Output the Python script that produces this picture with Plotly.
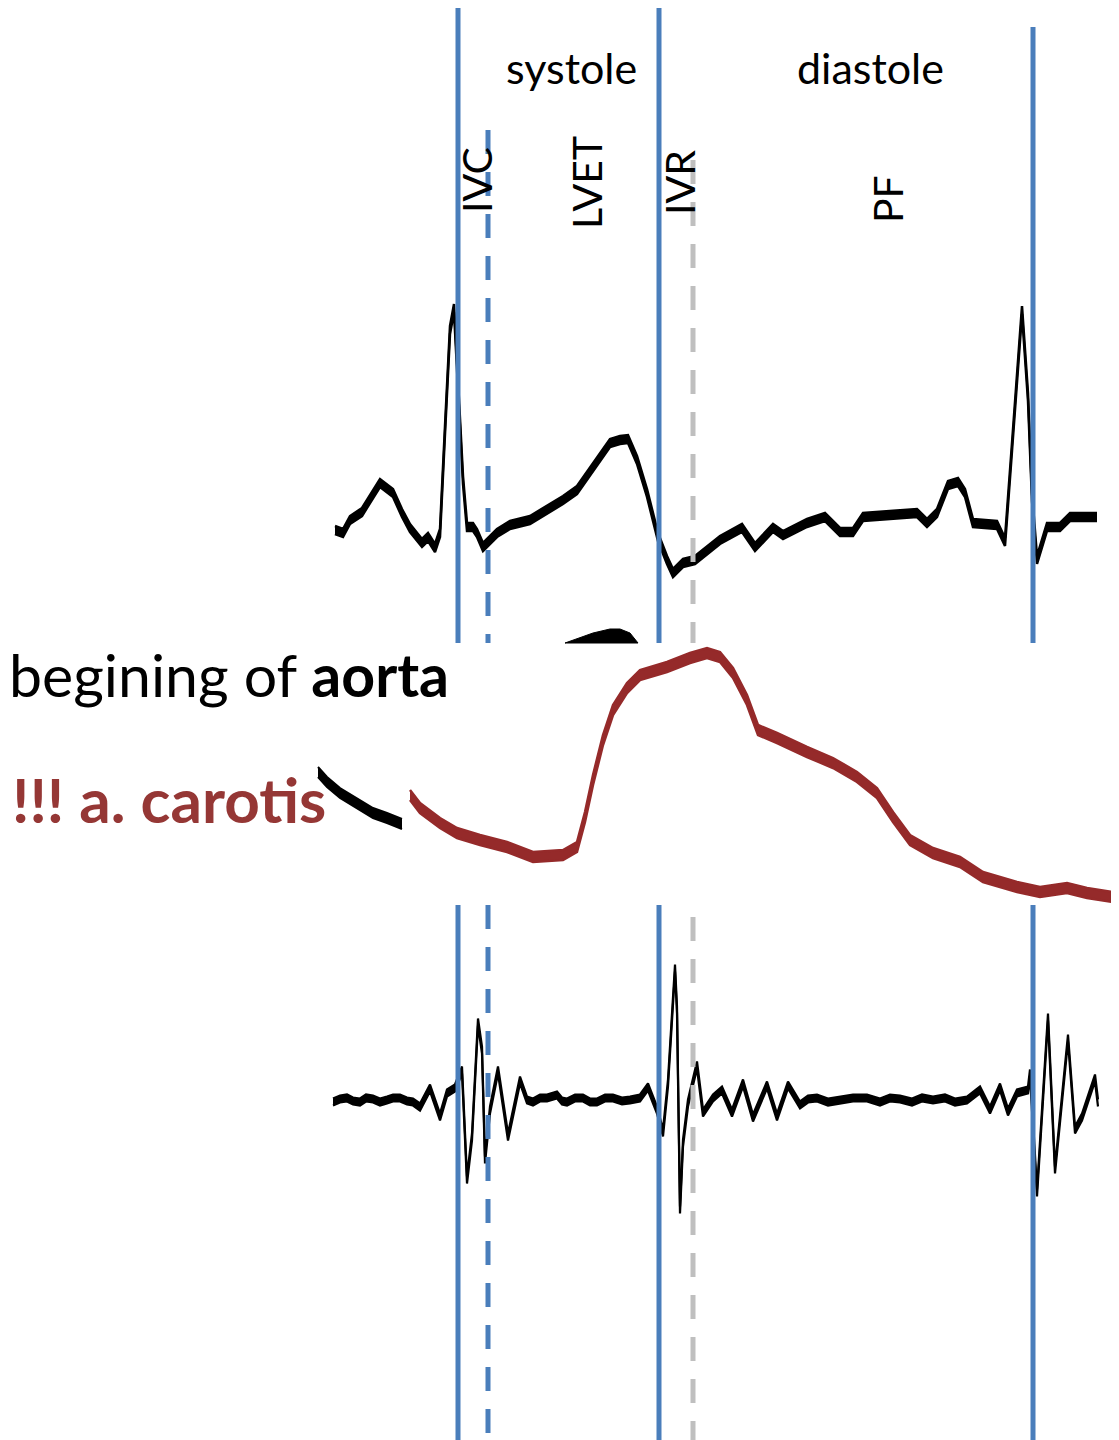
import numpy as np
import plotly.graph_objects as go

# ---------------- data (time axis in arbitrary ms-like units) ----------------
ecg_t = [335, 343, 350, 362, 380, 393, 402, 410, 422, 428, 435, 440, 445, 450, 454, 458, 463, 467,
         473, 477, 483, 497, 510, 530, 543, 563, 577, 593, 610, 620, 628, 637, 647, 658, 667, 673,
         683, 695, 707, 720, 742, 755, 773, 783, 807, 825, 840, 853, 863, 890, 917, 927, 937, 948,
         958, 965, 973, 997, 1005, 1012, 1022, 1028, 1032, 1037, 1047, 1060, 1070, 1097]
ecg_mv = [-0.025, -0.04, 0.025, 0.065, 0.21, 0.16, 0.06, -0.015, -0.09, -0.06, -0.115, -0.04, 0.475,
          0.975, 1.085, 0.725, 0.225, -0.01, -0.01, -0.04, -0.11, -0.04, 0.0, 0.025, 0.065, 0.125,
          0.175, 0.29, 0.41, 0.425, 0.43, 0.325, 0.16, -0.06, -0.175, -0.24, -0.19, -0.175, -0.125,
          -0.075, -0.015, -0.11, -0.015, -0.05, 0.01, 0.04, -0.035, -0.035, 0.04, 0.05, 0.06, 0.01,
          0.06, 0.2, 0.215, 0.16, 0.01, 0.0, -0.085, 0.39, 1.075, 0.64, 0.14, -0.175, -0.01, -0.01,
          0.04, 0.04]

aorta_t = [410, 420, 440, 457, 480, 507, 533, 563, 577, 585, 593, 603, 613, 627, 640, 667, 690, 707,
           720, 733, 747, 758, 777, 807, 833, 857, 877, 893, 910, 933, 960, 983, 1017, 1040, 1067,
           1087, 1113, 1119]
aorta_mmhg = [92.6, 90.0, 87.0, 85.0, 83.6, 82.2, 80.2, 80.6, 82.2, 88.2, 95.6, 103.6, 109.6, 114.0,
              116.6, 118.2, 120.0, 121.0, 120.2, 117.0, 111.6, 105.6, 104.0, 101.2, 99.0, 96.2, 93.0,
              88.2, 83.6, 81.0, 79.2, 76.2, 74.2, 73.2, 74.0, 73.0, 72.2, 72.2]

# fragments of neighbouring traces visible around the aorta panel
frag_left_t = [318, 327, 340, 357, 373, 387, 402]
frag_left_mmhg = [97.2, 95.2, 93.0, 91.0, 89.0, 88.0, 86.8]
frag_top_t = [565, 577, 593, 610, 620, 630, 638]
frag_top_mmhg = [123.0, 123.8, 125.0, 125.8, 125.8, 125.0, 123.2]
frag_top_floor = 123.0

pcg_t = [333, 340, 347, 353, 360, 366, 373, 380, 387, 393, 400, 407, 413, 420, 430, 440, 447, 455,
         462, 467, 472, 478, 482, 485, 490, 498, 508, 520, 527, 533, 540, 547, 557, 562, 567, 575,
         583, 590, 597, 605, 613, 622, 630, 640, 648, 657, 663, 668, 675, 677, 680, 683, 688, 697,
         703, 713, 722, 732, 743, 753, 767, 777, 788, 800, 808, 817, 828, 840, 853, 867, 880, 890,
         900, 912, 922, 933, 945, 955, 967, 980, 990, 1000, 1008, 1017, 1028, 1030, 1037, 1048,
         1055, 1068, 1075, 1082, 1095, 1098]
pcg_amp = [-0.02, 0.01, 0.02, -0.01, -0.02, 0.02, 0.01, -0.02, 0.0, 0.02, 0.02, -0.01, -0.02, -0.07,
           0.12, -0.17, 0.07, 0.12, 0.30, -0.80, -0.37, 0.78, 0.50, -0.60, -0.10, 0.30, -0.37, 0.20,
           0.0, -0.02, 0.02, 0.02, 0.05, -0.01, -0.02, 0.02, 0.02, -0.02, -0.02, 0.02, 0.02, -0.01,
           0.0, 0.02, 0.13, -0.10, -0.33, 0.17, 1.32, 0.90, -1.10, -0.43, -0.03, 0.35, -0.13, 0.02,
           0.10, -0.13, 0.17, -0.18, 0.15, -0.17, 0.15, -0.05, 0.01, 0.02, -0.02, 0.0, 0.02, 0.02,
           -0.02, 0.02, 0.01, -0.02, 0.02, 0.0, 0.02, -0.02, 0.0, 0.10, -0.10, 0.13, -0.12, 0.07,
           0.10, 0.27, -0.93, 0.83, -0.70, 0.62, -0.30, -0.17, 0.22, -0.03]

# cycle events (time)
solid_events = [458, 659, 1033]
dashed_blue_events = [488]
dashed_gray_events = [693]

phase_labels = ["systole", "diastole"]
phase_centers = [571, 870]
interval_labels = ["IVC", "LVET", "IVR", "PF"]
interval_centers = [476, 586, 679, 887]

# ---------------- styling ----------------
OFF = 8                      # default page margin of the html body
W, H = 1119 - OFF, 1440 - OFF
BLUE = "#4A7EBB"
GRAY = "#BFBFBF"
RED = "#952A2A"
RED_TXT = "#953735"
FONT = "Lato"

fig = go.Figure()


def band(t, v, half, color, yaxis, lw=2):
    t = np.asarray(t, float)
    v = np.asarray(v, float)
    fig.add_trace(go.Scatter(x=t, y=v - half, mode="lines", line=dict(color=color, width=lw),
                             yaxis=yaxis, hoverinfo="skip", showlegend=False))
    fig.add_trace(go.Scatter(x=t, y=v + half, mode="lines", line=dict(color=color, width=lw),
                             fill="tonexty", fillcolor=color, yaxis=yaxis, hoverinfo="skip",
                             showlegend=False))


band(ecg_t, ecg_mv, 0.02, "black", "y", lw=2.5)
band(aorta_t, aorta_mmhg, 1.0, RED, "y2", lw=2.5)
band(frag_left_t, frag_left_mmhg, 1.0, "black", "y2")
ft = list(frag_top_t) + [frag_top_t[-1], frag_top_t[0]]
fv = list(frag_top_mmhg) + [frag_top_floor, frag_top_floor]
fig.add_trace(go.Scatter(x=ft, y=fv, mode="lines", fill="toself", fillcolor="black",
                         line=dict(color="black", width=1), yaxis="y2", hoverinfo="skip",
                         showlegend=False))
band(pcg_t, pcg_amp, 0.035, "black", "y3", lw=2.2)

# vertical event lines (segments interrupted by the aorta panel)
PANEL_TOP, PANEL_BOT = 643, 905
shapes = []
seg_solid = {458: (0, 1440), 659: (0, 1440), 1033: (27, 1440)}
for e in solid_events:
    top, bot = seg_solid[e]
    for (a, b) in [(top, PANEL_TOP), (PANEL_BOT, bot)]:
        shapes.append(dict(type="line", xref="x", yref="y4", x0=e, x1=e, y0=a, y1=b,
                           line=dict(color=BLUE, width=5), layer="above"))
for e in dashed_blue_events:
    for (a, b) in [(130, PANEL_TOP), (PANEL_BOT, 1433)]:
        shapes.append(dict(type="line", xref="x", yref="y4", x0=e, x1=e, y0=a, y1=b,
                           line=dict(color=BLUE, width=5, dash="24px,18px"), layer="above"))
for e in dashed_gray_events:
    for (a, b) in [(160, PANEL_TOP), (917, 1440)]:
        shapes.append(dict(type="line", xref="x", yref="y4", x0=e, x1=e, y0=a, y1=b,
                           line=dict(color=GRAY, width=5, dash="24px,18px"), layer="above"))

annotations = []
for lab, c in zip(phase_labels, phase_centers):
    annotations.append(dict(x=c, y=67, xref="x", yref="y4", text=lab, showarrow=False,
                            font=dict(family=FONT, size=43, color="black"),
                            xanchor="center", yanchor="middle"))
interval_mid = {"IVC": 180, "LVET": 183, "IVR": 183, "PF": 199}
for lab, c in zip(interval_labels, interval_centers):
    annotations.append(dict(x=c, y=interval_mid[lab], xref="x", yref="y4", text=lab,
                            showarrow=False, textangle=-90,
                            font=dict(family=FONT, size=41, color="black"),
                            xanchor="center", yanchor="middle"))
annotations.append(dict(x=0, y=674, xref="paper", yref="y4", text="begining of <b>aorta</b>",
                        showarrow=False, borderpad=0, font=dict(family=FONT, size=59, color="black"),
                        xanchor="left", yanchor="middle"))
annotations.append(dict(x=10, y=799, xref="x", yref="y4", text="<b>!!! a. carotis</b>",
                        showarrow=False, font=dict(family=FONT, size=62, color=RED_TXT),
                        xanchor="left", yanchor="middle"))

hidden = dict(visible=False, showgrid=False, zeroline=False, fixedrange=True)
fig.update_layout(
    width=W, height=H, margin=dict(l=0, r=0, t=0, b=0),
    paper_bgcolor="white", plot_bgcolor="white", showlegend=False,
    xaxis=dict(range=[OFF, 1119], domain=[0, 1], **hidden),
    yaxis=dict(range=[-4.575, 2.625 - OFF / 200], domain=[0, 1], **hidden),
    yaxis2=dict(range=[-36.4, 251.6 - OFF / 5], overlaying="y", **hidden),
    yaxis3=dict(range=[-3.4, 11.0 - OFF / 100], overlaying="y", **hidden),
    yaxis4=dict(range=[1440, OFF], overlaying="y", **hidden),
    shapes=shapes, annotations=annotations,
)

fig.write_html("out.html")
